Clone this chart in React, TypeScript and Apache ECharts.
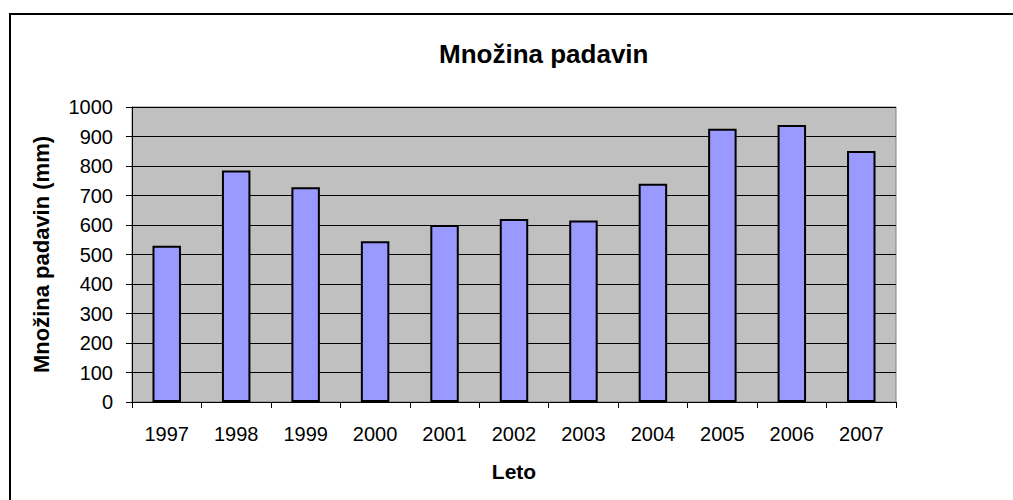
import React, { useEffect, useRef } from "react";
import * as echarts from "echarts";

const categories: string[] = ["1997", "1998", "1999", "2000", "2001", "2002", "2003", "2004", "2005", "2006", "2007"];
const rainfall: number[] = [530, 785, 728, 545, 600, 620, 615, 740, 926, 939, 851];
const titleText = "Množina padavin";
const xName = "Leto";
const yName = "Množina padavin (mm)";

export default function App() {
  const ref = useRef<HTMLDivElement>(null);
  useEffect(() => {
    if (!ref.current) return;
    const chart = echarts.init(ref.current, null, { renderer: "svg" });
    const font = "Arial, 'Liberation Sans', sans-serif";
    chart.setOption({
      animation: false,
      backgroundColor: "#ffffff",
      title: {
        text: titleText,
        left: 434,
        top: 36,
        textStyle: { fontFamily: font, fontSize: 26, fontWeight: "bold", color: "#000" },
      },
      graphic: [
        {
          type: "rect",
          shape: { x: 10, y: 14, width: 1020, height: 520 },
          style: { fill: "none", stroke: "#000", lineWidth: 2 },
          silent: true,
        },
      ],
      grid: {
        left: 132,
        top: 107,
        right: 117,
        bottom: 98,
        show: true,
        backgroundColor: "#C0C0C0",
        borderColor: "#808080",
        borderWidth: 1,
      },
      xAxis: {
        type: "category",
        data: categories,
        boundaryGap: true,
        name: xName,
        nameLocation: "middle",
        nameGap: 59,
        nameTextStyle: { fontFamily: font, fontSize: 21, fontWeight: "bold", color: "#000" },
        axisLine: { lineStyle: { color: "#000", width: 1 } },
        axisTick: { show: true, length: 6, alignWithLabel: false, lineStyle: { color: "#000" } },
        axisLabel: { fontFamily: font, fontSize: 20, color: "#000", margin: 22 },
        splitLine: { show: false },
      },
      yAxis: {
        type: "value",
        min: 0,
        max: 1000,
        interval: 100,
        name: yName,
        nameLocation: "middle",
        nameGap: 80,
        nameTextStyle: { fontFamily: font, fontSize: 22, fontWeight: "bold", color: "#000" },
        axisLine: { show: true, lineStyle: { color: "#000", width: 1 } },
        axisTick: { show: true, length: 6, lineStyle: { color: "#000" } },
        axisLabel: { fontFamily: font, fontSize: 20, color: "#000", margin: 19, formatter: (v: number) => String(v) },
        splitLine: { show: true, lineStyle: { color: "#000", width: 1 } },
      },
      series: [
        {
          type: "bar",
          data: rainfall,
          barWidth: "41%",
          itemStyle: { color: "#9999FF", borderColor: "#000", borderWidth: 2 },
        },
      ],
    });
    return () => chart.dispose();
  }, []);
  return <div ref={ref} style={{ position: "fixed", left: 0, top: 0, width: 1013, height: 500 }} />;
}
